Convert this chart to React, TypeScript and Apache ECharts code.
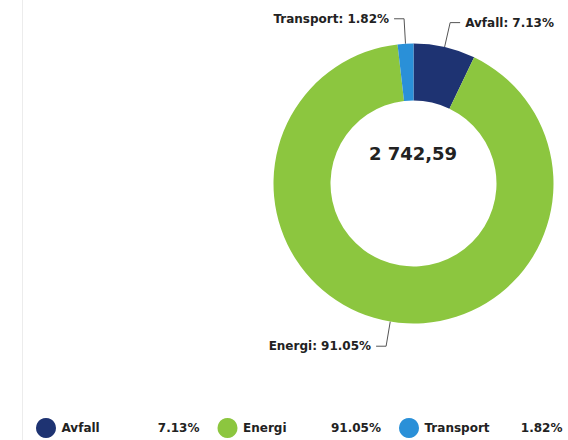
import React, { useEffect, useRef } from "react";
import * as echarts from "echarts";

const categories = ["Avfall", "Energi", "Transport"];
const shares = [7.13, 91.05, 1.82];
const colors = ["#1e3372", "#8cc63f", "#2a90d8"];
const totalLabel = "2 742,59";

export default function App() {
  const ref = useRef<HTMLDivElement>(null);
  useEffect(() => {
    if (!ref.current) return;
    const chart = echarts.init(ref.current, null, { renderer: "svg" });
    const font = "'DejaVu Sans', Verdana, sans-serif";
    const shareByName: Record<string, number> = {};
    categories.forEach((c, i) => (shareByName[c] = shares[i]));
    chart.setOption({
      animation: false,
      backgroundColor: "#ffffff",
      color: colors,
      graphic: [
        {
          type: "line",
          shape: { x1: 22.5, y1: 0, x2: 22.5, y2: 440 },
          style: { stroke: "#ececec", lineWidth: 1 },
          silent: true,
        },
        {
          type: "text",
          x: 413,
          y: 153,
          style: {
            text: totalLabel,
            align: "center",
            verticalAlign: "middle",
            fontFamily: font,
            fontWeight: "bold",
            fontSize: 18,
            fill: "#222",
          },
        },
      ],
      legend: {
        left: 36,
        top: 418,
        width: 560,
        padding: 0,
        orient: "horizontal",
        icon: "circle",
        itemWidth: 21,
        itemHeight: 20,
        itemGap: 18,
        data: categories,
        formatter: (name: string) =>
          `{n|${name}}{v|${shareByName[name].toFixed(2)}%}`,
        textStyle: {
          fontFamily: font,
          fontWeight: "bold",
          fontSize: 12,
          color: "#222",
          rich: {
            n: { width: 80, fontFamily: font, fontWeight: "bold", fontSize: 12, color: "#222" },
            v: { width: 58, align: "right", fontFamily: font, fontWeight: "bold", fontSize: 12, color: "#222" },
          },
        },
      },
      series: [
        {
          type: "pie",
          center: [413.5, 183.5],
          radius: [83, 140],
          startAngle: 90,
          clockwise: true,
          avoidLabelOverlap: true,
          data: categories.map((c, i) => ({ name: c, value: shares[i] })),
          label: {
            show: true,
            position: "outside",
            formatter: (p: any) => `${p.name}: ${Number(p.value).toFixed(2)}%`,
            fontFamily: font,
            fontWeight: "bold",
            fontSize: 12,
            color: "#222",
          },
          labelLine: {
            show: true,
            length: 25,
            length2: 10,
            lineStyle: { color: "#555", width: 1 },
          },
          emphasis: { disabled: true },
        },
      ],
    });
    return () => chart.dispose();
  }, []);
  return (
    <div
      ref={ref}
      style={{ position: "fixed", left: 0, top: 0, width: 568, height: 440 }}
    />
  );
}
